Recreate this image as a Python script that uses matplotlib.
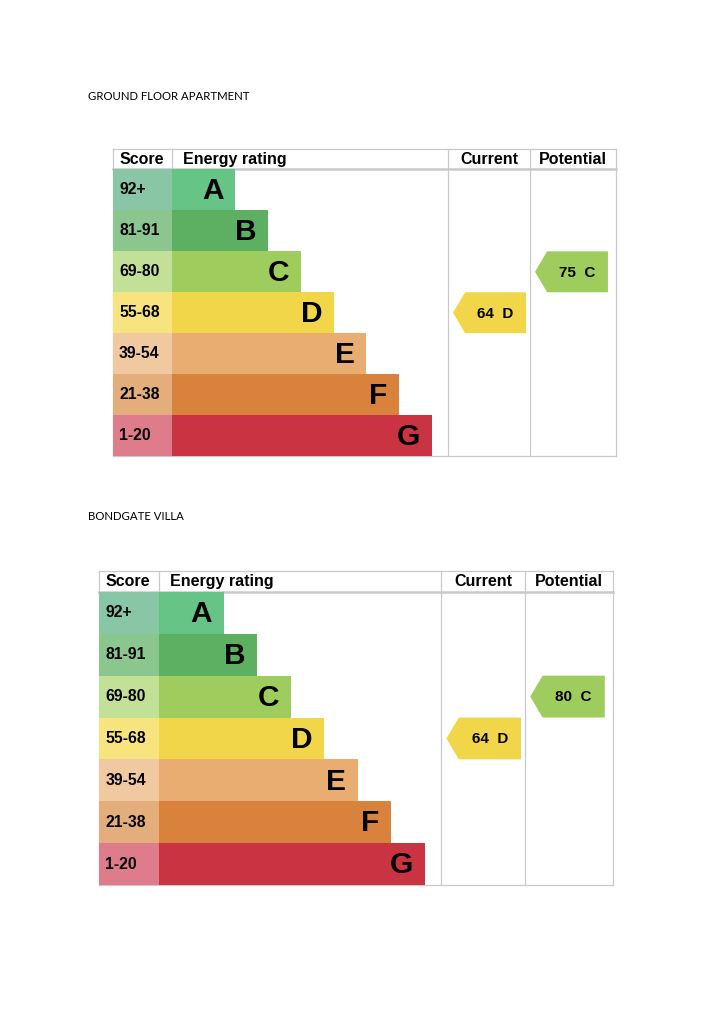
import matplotlib
matplotlib.use('Agg')
import matplotlib.pyplot as plt
from matplotlib.patches import Polygon
import numpy as np

# ---- data ----
titles = ['GROUND FLOOR APARTMENT', 'BONDGATE VILLA']
bands = ['A', 'B', 'C', 'D', 'E', 'F', 'G']
score_ranges = ['92+', '81-91', '69-80', '55-68', '39-54', '21-38', '1-20']
band_lower = [92, 81, 69, 55, 39, 21, 1]
current_scores = [64, 64]
potential_scores = [75, 80]

# ---- styles ----
score_colors = ['#88c6a6', '#8cc68f', '#c3e097', '#f7e47e', '#f0c9a1', '#e4ad7c', '#de7c8b']
bar_colors = ['#67c487', '#5daf61', '#9fcd5d', '#f1d64a', '#e9ac71', '#d8823c', '#ca3442']
line_col = '#c9c9c9'

W, H = 724, 1024
fig = plt.figure(figsize=(W / 100, H / 100), dpi=100)

boxes = [(113, 149, 616, 456), (99, 571, 613, 885)]
title_pos = [(88, 96), (88, 517)]

SCORE_W = 11.7
CUR_X = 66.6
POT_X = 82.9


def band_index(v):
    for i, lo in enumerate(band_lower):
        if v >= lo:
            return i
    return len(band_lower) - 1


def arrow(ax, v, x_tip, x_rect, x_right):
    r = band_index(v)
    pts = [(x_tip, r + 0.5), (x_rect, r), (x_right, r), (x_right, r + 1), (x_rect, r + 1)]
    ax.add_patch(Polygon(pts, closed=True, facecolor=bar_colors[r], edgecolor='none', zorder=3))
    ax.text((x_rect + x_right) / 2, r + 0.52, f'{v}  {bands[r]}', ha='center', va='center',
            fontsize=11, fontweight='bold', family='Liberation Sans', zorder=4)


for k in range(2):
    x0, y0, x1, y1 = boxes[k]
    ax = fig.add_axes([x0 / W, 1 - y1 / H, (x1 - x0) / W, (y1 - y0) / H])
    ax.set_xlim(0, 100)
    ax.set_ylim(7, -0.5)
    ax.axis('off')

    rows = np.arange(len(bands)) + 0.5
    ends = 24.3 + 6.52 * np.arange(len(bands))

    # grid lines
    lw = 0.9
    ax.plot([0, 100], [-0.5, -0.5], color=line_col, lw=lw, zorder=1, clip_on=False)
    ax.plot([0, 100], [0, 0], color=line_col, lw=1.8, zorder=1, clip_on=False)
    ax.plot([0, 100], [7, 7], color=line_col, lw=lw, zorder=1, clip_on=False)
    for xv in [0, CUR_X, POT_X, 100]:
        ax.plot([xv, xv], [-0.5, 7], color=line_col, lw=lw, zorder=1, clip_on=False)
    ax.plot([SCORE_W, SCORE_W], [-0.5, 0], color=line_col, lw=lw, zorder=1, clip_on=False)

    # score cells and bars
    ax.barh(rows, SCORE_W, left=0, height=1.0, color=score_colors, zorder=2)
    ax.barh(rows, ends - SCORE_W, left=SCORE_W, height=1.0, color=bar_colors, zorder=2)

    for i in range(len(bands)):
        ax.text(1.2, rows[i], score_ranges[i], ha='left', va='center', fontsize=11.3,
                fontweight='bold', family='Liberation Sans', zorder=4)
        ax.text(ends[i] - 2.3, rows[i] + 0.03, bands[i], ha='right', va='center', fontsize=21.5,
                fontweight='bold', family='Liberation Sans', zorder=4)

    # headers
    hy = -0.24
    ax.text(1.2, hy, 'Score', ha='left', va='center', fontsize=11.5, fontweight='bold', family='Liberation Sans')
    ax.text(SCORE_W + 2.2, hy, 'Energy rating', ha='left', va='center', fontsize=11.5, fontweight='bold', family='Liberation Sans')
    ax.text((CUR_X + POT_X) / 2, hy, 'Current', ha='center', va='center', fontsize=11.5, fontweight='bold', family='Liberation Sans')
    ax.text((POT_X + 100) / 2, hy, 'Potential', ha='center', va='center', fontsize=11.5, fontweight='bold', family='Liberation Sans')

    # arrows
    arrow(ax, current_scores[k], 67.6, 70.0, 82.1)
    arrow(ax, potential_scores[k], 83.9, 86.3, 98.4)

    tx, ty = title_pos[k]
    fig.text(tx / W, 1 - ty / H, titles[k], ha='left', va='center', fontsize=8.2, family='Lato')

fig.savefig('out.png', dpi=100)
